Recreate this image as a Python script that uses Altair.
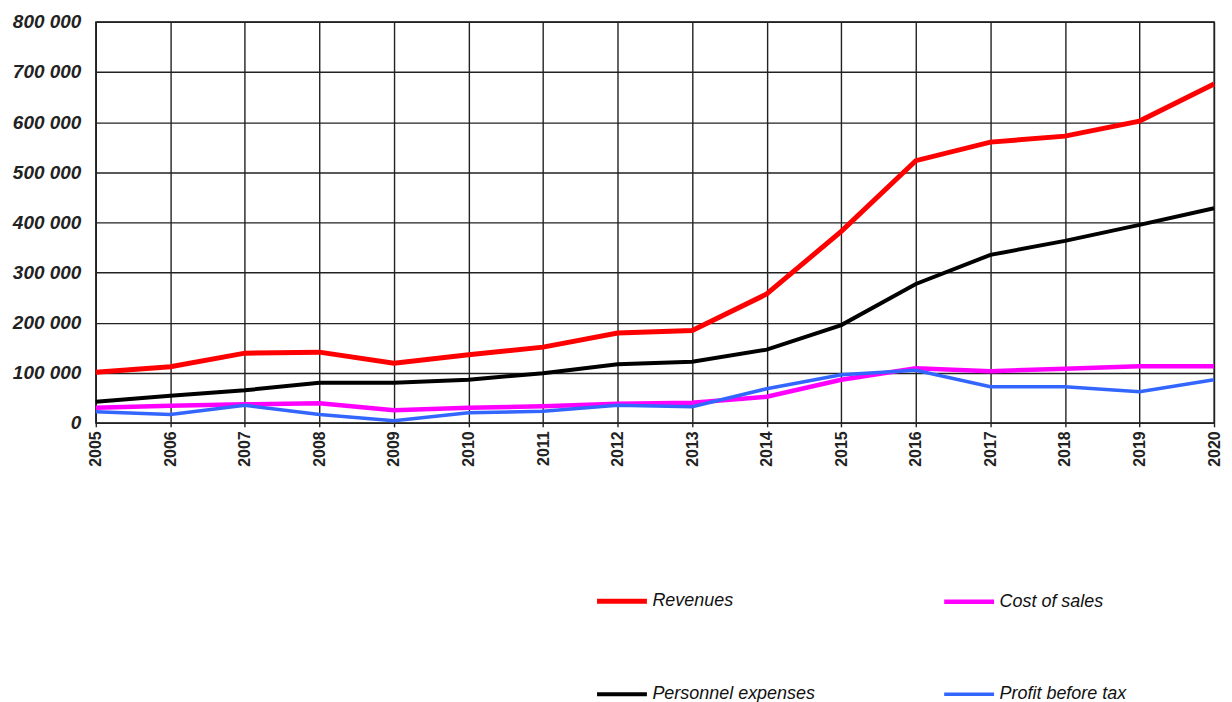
import altair as alt
import pandas as pd

years = list(range(2005, 2021))
series = ["Revenues", "Cost of sales", "Personnel expenses", "Profit before tax"]
colors = ["#FF0000", "#FF00FF", "#000000", "#3366FF"]
widths = [5, 3.5, 3, 3.5]

revenues = [101000, 112000, 139000, 141000, 119000, 136000, 151000, 179000,
            184000, 257000, 382000, 523000, 560000, 572000, 602000, 676000]
cost_of_sales = [30000, 34000, 37000, 39000, 25000, 30000, 33000, 38000,
                 40000, 52000, 86000, 109000, 103000, 108000, 113000, 113000]
personnel = [42000, 54000, 65000, 80000, 80000, 86000, 99000, 117000,
             122000, 146000, 195000, 277000, 335000, 363000, 395000, 428000]
profit = [22000, 16500, 35000, 16500, 4000, 20000, 23000, 35000,
          32000, 68000, 96000, 105000, 72000, 72000, 62000, 86000]

y_ticks = [0, 100000, 200000, 300000, 400000, 500000, 600000, 700000, 800000]

rows = []
for name, vals in zip(series, [revenues, cost_of_sales, personnel, profit]):
    for yr, v in zip(years, vals):
        rows.append({"year": yr, "value": v, "series": name})
df = pd.DataFrame(rows)

FONT = "Liberation Sans"

chart = alt.Chart(df).mark_line().encode(
    x=alt.X("year:Q",
            scale=alt.Scale(domain=[years[0], years[-1]], nice=False, zero=False),
            axis=alt.Axis(values=years, format="d", labelAngle=-90, title=None,
                          labelFont=FONT, labelFontWeight="bold", labelFontSize=16,
                          labelColor="#222222", grid=True, gridColor="#222222",
                          gridWidth=1.4, domainColor="#222222", domainWidth=1.4,
                          tickColor="#222222", tickSize=4, tickWidth=1.4,
                          labelPadding=4, labelFlush=False)),
    y=alt.Y("value:Q",
            scale=alt.Scale(domain=[0, 800000], nice=False),
            axis=alt.Axis(values=y_ticks, format=",d", title=None,
                          labelFont=FONT, labelFontWeight="bold", labelFontStyle="italic",
                          labelFontSize=19, labelColor="#222222", grid=True,
                          gridColor="#222222", gridWidth=1.4, domain=True,
                          domainColor="#222222", domainWidth=1.4, ticks=False,
                          labelPadding=15, labelExpr="replace(datum.label, ',', ' ')")),
    color=alt.Color("series:N",
                    scale=alt.Scale(domain=series, range=colors),
                    sort=series,
                    legend=alt.Legend(title=None, orient="none", legendX=500, legendY=553,
                                      direction="horizontal",
                                      columns=2, columnPadding=119, rowPadding=56,
                                      symbolType="stroke", symbolSize=2500,
                                      symbolStrokeWidth=4, labelFont=FONT,
                                      labelFontStyle="italic", labelFontSize=18,
                                      labelLimit=400,
                                      labelColor="#111111", labelOffset=3)),
    strokeWidth=alt.StrokeWidth("series:N",
                                scale=alt.Scale(domain=series, range=widths),
                                sort=series, legend=None),
    order=alt.Order("year:Q"),
).properties(
    width=1121, height=402,
    padding={"left": 4, "top": 4, "right": 0, "bottom": 0},
).configure_view(stroke="#222222", strokeWidth=1.4)

chart.save("out.html", embed_options={"renderer": "svg", "actions": False})
